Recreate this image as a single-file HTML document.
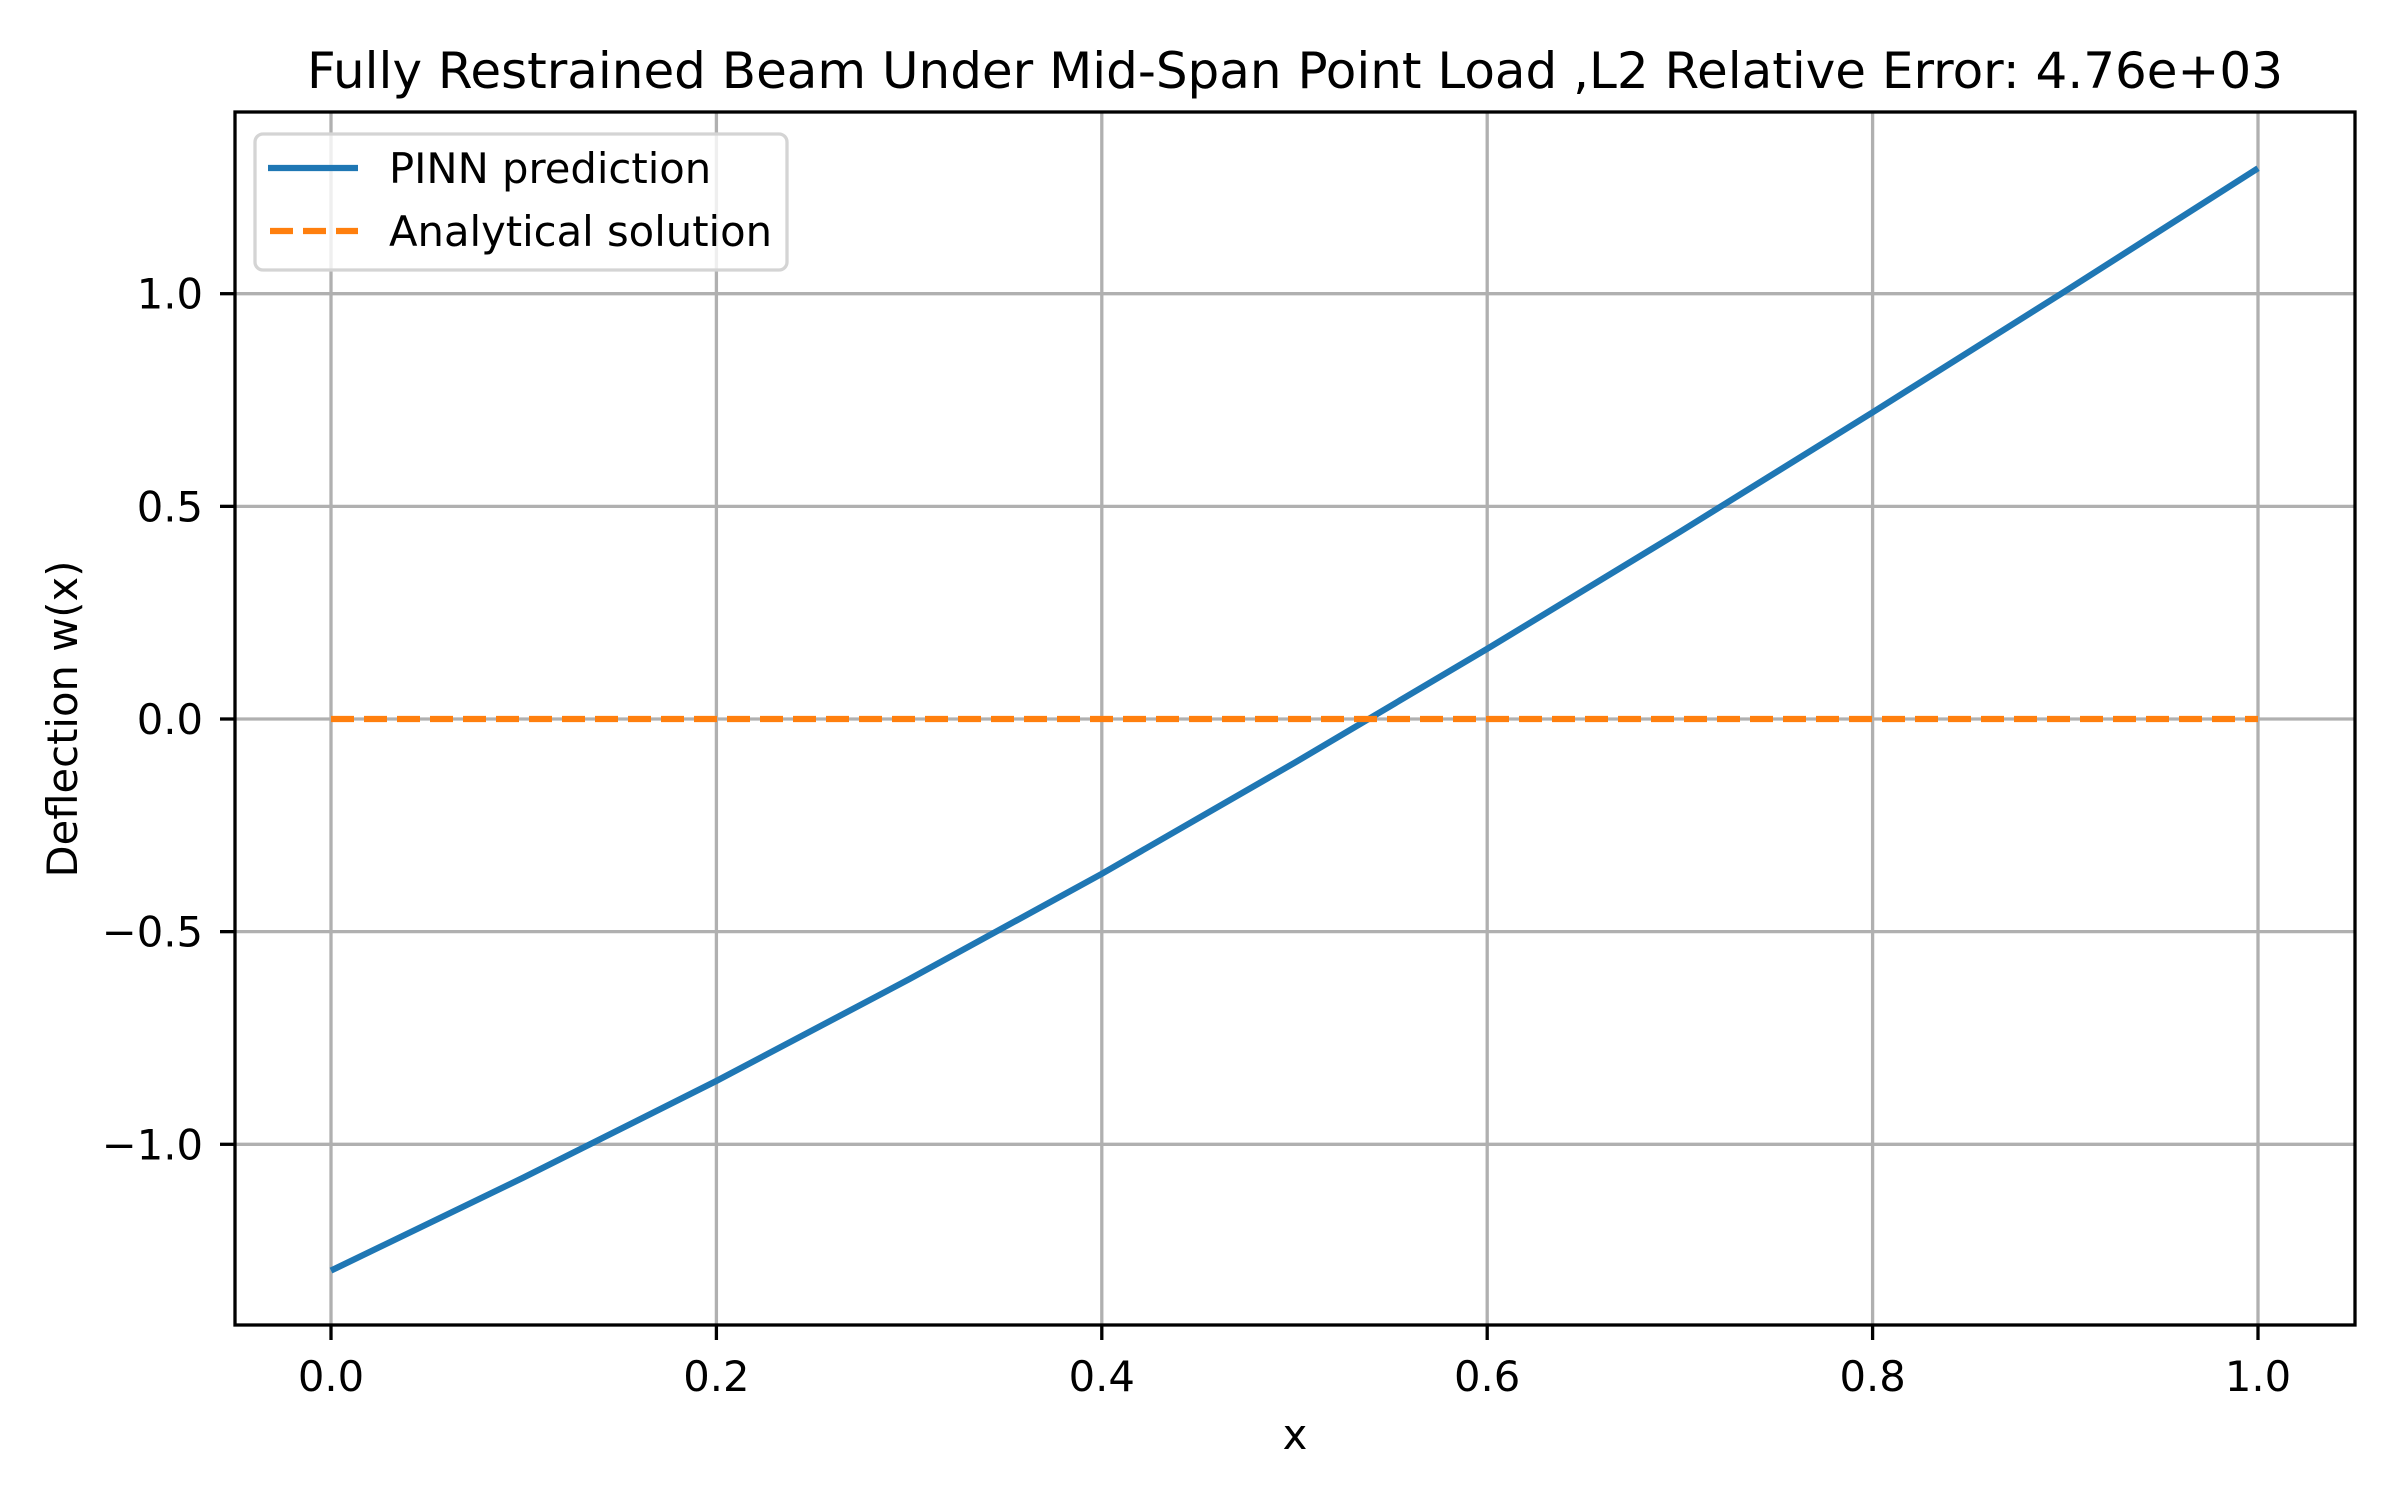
<!DOCTYPE html>
<html><head><meta charset="utf-8"><style>
html,body{margin:0;padding:0;background:#fff;}
svg{display:block;font-family:"DejaVu Sans","Liberation Sans",sans-serif;}
</style></head><body>
<svg id="chart" width="2400" height="1500" viewBox="0 0 2400 1500" xmlns="http://www.w3.org/2000/svg">
<rect x="0" y="0" width="2400" height="1500" fill="#fff"/>
<text x="1295" y="88" font-size="50" text-anchor="middle" textLength="1976" lengthAdjust="spacingAndGlyphs">Fully Restrained Beam Under Mid-Span Point Load ,L2 Relative Error: 4.76e+03</text>
<g id="grid"></g>
<g id="series"></g>
<rect x="235" y="112" width="2120" height="1213" fill="none" stroke="#000" stroke-width="3.3"/>
<g id="ticks"></g>
<text x="1295" y="1449" font-size="41.7" text-anchor="middle">x</text>
<text x="0" y="0" font-size="41.7" text-anchor="middle" transform="translate(77,719) rotate(-90)">Deflection w(x)</text>
<g>
<rect x="255" y="134" width="532" height="136" rx="8" fill="#fff" fill-opacity="0.8" stroke="#d4d4d4" stroke-width="3.3"/>
<line x1="268" y1="168" x2="358" y2="168" stroke="#1f77b4" stroke-width="6.25"/>
<text x="389" y="183" font-size="41.7">PINN prediction</text>
<line x1="270" y1="231" x2="358" y2="231" stroke="#ff7f0e" stroke-width="6.25" stroke-dasharray="23 10"/>
<text x="389" y="246" font-size="41.7">Analytical solution</text>
</g>
</svg>
<script>
const xValues = [0, 0.1, 0.2, 0.3, 0.4, 0.5, 0.6, 0.7, 0.8, 0.9, 1.0];
const pinnValues = [-1.297, -1.078, -0.851, -0.612, -0.364, -0.103, 0.165, 0.44, 0.721, 1.006, 1.295];
const analyticalValues = [0, 0, 0, 0, 0, 0, 0, 0, 0, 0, 0];
const xTicks = [0, 0.2, 0.4, 0.6, 0.8, 1.0];
const xTickLabels = ["0.0", "0.2", "0.4", "0.6", "0.8", "1.0"];
const yTicks = [-1.0, -0.5, 0.0, 0.5, 1.0];
const yTickLabels = ["\u22121.0", "\u22120.5", "0.0", "0.5", "1.0"];

const NS = "http://www.w3.org/2000/svg";
const X0 = 331, XU = 1927, Y0 = 719, YU = 425.3;
function sx(v){ return X0 + v * XU; }
function sy(v){ return Y0 - v * YU; }
function mk(tag, attrs, parent){
  const e = document.createElementNS(NS, tag);
  for (const k in attrs) e.setAttribute(k, attrs[k]);
  parent.appendChild(e);
  return e;
}
const grid = document.getElementById('grid');
const ticks = document.getElementById('ticks');
const series = document.getElementById('series');

xTicks.forEach((t, i) => {
  const g = mk('line', {x1: sx(t), x2: sx(t), y1: 112, y2: 1325, stroke: '#b0b0b0', 'stroke-width': 3.3}, grid);
  
  
  const tk = mk('line', {x1: sx(t), x2: sx(t), y1: 1325, y2: 1340, stroke: '#000', 'stroke-width': 3.3}, ticks);
  
  
  const lb = mk('text', {x: sx(t), y: 1391, 'font-size': 41.7, 'text-anchor': 'middle'}, ticks);
  lb.textContent = xTickLabels[i];
  
  
});
yTicks.forEach((t, i) => {
  const g = mk('line', {x1: 235, x2: 2355, y1: sy(t), y2: sy(t), stroke: '#b0b0b0', 'stroke-width': 3.3}, grid);
  
  
  const tk = mk('line', {x1: 220, x2: 235, y1: sy(t), y2: sy(t), stroke: '#000', 'stroke-width': 3.3}, ticks);
  
  
  const lb = mk('text', {x: 203, y: sy(t) + 15, 'font-size': 41.7, 'text-anchor': 'end'}, ticks);
  lb.textContent = yTickLabels[i];
  
  
});
function pts(arr){ return xValues.map((x, i) => sx(x) + ',' + sy(arr[i])).join(' '); }
const pl = mk('polyline', {points: pts(pinnValues), fill: 'none', stroke: '#1f77b4', 'stroke-width': 6.25, 'stroke-linejoin': 'round'}, series);


const al = mk('polyline', {points: pts(analyticalValues), fill: 'none', stroke: '#ff7f0e', 'stroke-width': 6.25, 'stroke-dasharray': '23 10'}, series);


</script>
</body></html>
